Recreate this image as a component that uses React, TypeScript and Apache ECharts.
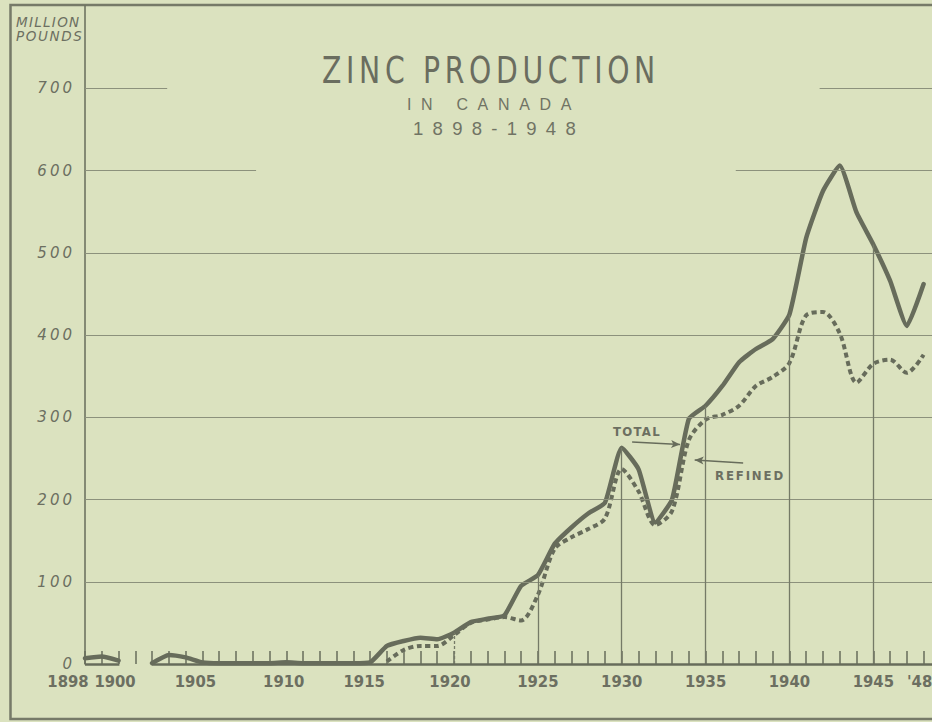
import React, { useEffect, useRef } from "react";
import * as echarts from "echarts";

// ---- data ----
const years = [
  1898, 1899, 1900, 1901, 1902, 1903, 1904, 1905, 1906, 1907,
  1908, 1909, 1910, 1911, 1912, 1913, 1914, 1915, 1916, 1917,
  1918, 1919, 1920, 1921, 1922, 1923, 1924, 1925, 1926, 1927,
  1928, 1929, 1930, 1931, 1932, 1933, 1934, 1935, 1936, 1937,
  1938, 1939, 1940, 1941, 1942, 1943, 1944, 1945, 1946, 1947, 1948,
];
// million pounds
const totalProduction = [
  7, 9, 4, null, 1, 11, 8, 2, 1, 1,
  1, 1, 2, 1, 1, 1, 1, 2, 22, 28,
  32, 30, 38, 51, 55, 59, 95, 108, 146, 166,
  183, 196, 263, 237, 172, 200, 298, 314, 338, 367,
  383, 395, 425, 518, 575, 606, 549, 510, 466, 411, 462,
];
const refinedProduction = [
  null, null, null, null, null, null, null, null, null, null,
  null, null, null, null, null, null, null, null, 3, 17,
  22, 22, 35, 50, 54, 57, 53, 84, 140, 154,
  164, 177, 237, 210, 169, 186, 272, 297, 303, 314,
  338, 349, 366, 424, 428, 402, 342, 365, 370, 354, 376,
];
const firstYearLabel = "1898";
const xLabelYears = [1900, 1905, 1910, 1915, 1920, 1925, 1930, 1935, 1940, 1945, 1948];
const yTickValues = [0, 100, 200, 300, 400, 500, 600, 700];
const fullGridValues = [100, 200, 300, 400, 500];
// partially visible grid lines on the scanned page: [value, fromYear, toYear]
const partialGrid: [number, number, number][] = [
  [600, 1898, 1908.2],
  [600, 1936.8, 1948.5],
  [700, 1898, 1902.9],
  [700, 1941.8, 1948.5],
];
const dropLineYears = [1925, 1930, 1935, 1940, 1945];

const BG = "#dbe2bf";
const INK = "#676c5b";
const GRID = "#8c917c";
const TEXT = "#6c6f61";
const NARROW = "'Liberation Sans Narrow', 'DejaVu Sans Condensed', 'Liberation Sans', sans-serif";
const SANS = "'Liberation Sans', sans-serif";
const XFONT = 16.5;

// drift of the printed year labels (px, negative = left)
const labelShift: Record<number, number> = { 1900: -3.5, 1905: -7, 1910: -2.5, 1915: -6, 1920: -4, 1948: -4 };

function measure(text: string, font: string): number {
  const c = document.createElement("canvas").getContext("2d");
  if (!c) return text.length * 10;
  c.font = font;
  return c.measureText(text).width || text.length * 10;
}

const spacingMap: Record<string, number> = {};

// text placed at left x, with given glyph scaleX, spread to a target width with letter spacing
function spacedText(
  text: string,
  x: number,
  y: number,
  width: number,
  size: number,
  weight: string,
  family: string,
  fill: string,
  scaleX: number
) {
  const natural = measure(text, `${weight} ${size}px ${family}`);
  const ls = Math.max(0, (width / scaleX - natural) / text.length);
  spacingMap[text] = ls;
  return {
    type: "text",
    x,
    y,
    scaleX,
    silent: true,
    style: {
      text,
      fontSize: size,
      fontWeight: weight,
      fontFamily: family,
      fill,
      align: "left",
      verticalAlign: "middle",
      textAlign: "left",
      textVerticalAlign: "middle",
    },
  };
}

export default function App() {
  const ref = useRef<HTMLDivElement>(null);

  useEffect(() => {
    if (!ref.current) return;
    const chart = echarts.init(ref.current, undefined, { renderer: "svg" });

    const totalData = years.map((y, i) => [y, totalProduction[i] == null ? "-" : totalProduction[i]]);
    const refinedData = years.map((y, i) => [y, refinedProduction[i] == null ? "-" : refinedProduction[i]]);

    const gridLines: any[] = [];
    fullGridValues.forEach((v) => {
      gridLines.push([{ coord: [1898, v] }, { coord: [1948.5, v] }]);
    });
    partialGrid.forEach(([v, a, b]) => {
      gridLines.push([{ coord: [a, v] }, { coord: [b, v] }]);
    });

    const baseLines: any[] = [
      [{ coord: [1898, 0] }, { coord: [1900.05, 0] }],
      [{ coord: [1902, 0] }, { coord: [1948.5, 0] }],
    ];

    const drops: any[] = dropLineYears.map((yr) => [
      { coord: [yr, 0] },
      { coord: [yr, totalProduction[years.indexOf(yr)] as number] },
    ]);
    drops.push([
      { coord: [1920, 0], lineStyle: { type: [3, 2] } },
      { coord: [1920, totalProduction[years.indexOf(1920)] as number] },
    ]);

    const arrows: any[] = [
      [
        { coord: [1930.62, 269.9], symbol: "none" },
        { coord: [1933.48, 266.9], symbol: "arrow", symbolSize: [6, 9] },
      ],
      [
        { coord: [1937.24, 244.4], symbol: "none" },
        { coord: [1934.35, 248.0], symbol: "arrow", symbolSize: [6, 9] },
      ],
    ];

    const xRich: Record<string, any> = {};
    xLabelYears.forEach((yr) => {
      const s = labelShift[yr] || 0;
      xRich["y" + yr] = {
        color: TEXT,
        fontFamily: NARROW,
        fontWeight: "bold",
        fontSize: XFONT,
        padding: [0, Math.max(0, -2 * s), 0, Math.max(0, 2 * s)],
      };
    });

    // y-axis labels printed with spaced digits
    yTickValues.forEach((v) => {
      spacingMap[String(v)] = 3;
    });
    spacingMap["MILLION"] = 1.3;
    spacingMap["POUNDS"] = 1.6;

    const graphics: any[] = [
      {
        type: "rect",
        silent: true,
        shape: { x: 10.5, y: 5, width: 960, height: 714 },
        style: { fill: "none", stroke: "#767a68", lineWidth: 2.5 },
      },
      {
        type: "text",
        x: 16,
        y: 21.5,
        silent: true,
        style: {
          text: "MILLION",
          fontSize: 13.5,
          fontStyle: "italic",
          fontFamily: "'DejaVu Sans', sans-serif",
          fill: TEXT,
          align: "left",
          verticalAlign: "middle",
          textAlign: "left",
          textVerticalAlign: "middle",
        },
      },
      {
        type: "text",
        x: 16,
        y: 36,
        silent: true,
        style: {
          text: "POUNDS",
          fontSize: 13.5,
          fontStyle: "italic",
          fontFamily: "'DejaVu Sans', sans-serif",
          fill: TEXT,
          align: "left",
          verticalAlign: "middle",
          textAlign: "left",
          textVerticalAlign: "middle",
        },
      },
      {
        type: "text",
        x: 68,
        y: 681.5,
        silent: true,
        style: {
          text: firstYearLabel,
          fontSize: XFONT,
          fontWeight: "bold",
          fontFamily: NARROW,
          fill: TEXT,
          align: "center",
          verticalAlign: "middle",
          textAlign: "center",
          textVerticalAlign: "middle",
        },
      },
      spacedText("ZINC PRODUCTION", 322, 70, 338, 37, "normal", NARROW, "#6a6d5f", 0.85),
      spacedText("IN CANADA", 407, 104.5, 174, 16, "normal", SANS, "#707364", 1),
      spacedText("1898-1948", 413, 128.5, 172, 18.5, "normal", SANS, "#707364", 1),
      spacedText("TOTAL", 613, 431.5, 48, 13, "bold", NARROW, TEXT, 1),
      spacedText("REFINED", 715, 475, 70, 13, "bold", NARROW, TEXT, 1),
    ];

    chart.setOption({
      animation: false,
      backgroundColor: BG,
      grid: { left: 85, right: 0, top: 6, bottom: 58, outerBoundsMode: "none", containLabel: false },
      xAxis: {
        type: "value",
        min: 1898,
        max: 1948.5,
        splitLine: { show: false },
        axisLine: { show: false },
        axisTick: {
          show: true,
          inside: true,
          length: 13,
          customValues: years,
          lineStyle: { color: INK, width: 1.5 },
        },
        axisLabel: {
          show: true,
          customValues: xLabelYears,
          hideOverlap: false,
          formatter: (v: number) => `{y${v}|${v === 1948 ? "'48" : String(v)}}`,
          rich: xRich,
          color: TEXT,
          fontFamily: NARROW,
          fontWeight: "bold",
          fontSize: XFONT,
          margin: 9,
        },
      },
      yAxis: {
        type: "value",
        min: 0,
        max: 800,
        interval: 100,
        splitLine: { show: false },
        axisTick: { show: false },
        axisLine: { show: true, lineStyle: { color: INK, width: 1.5 } },
        axisLabel: {
          customValues: yTickValues,
          showMinLabel: true,
          formatter: (v: number) => String(v),
          color: TEXT,
          fontFamily: "'DejaVu Sans', sans-serif",
          fontStyle: "italic",
          fontSize: 15,
          margin: 10,
        },
      },
      series: [
        {
          name: "grid",
          type: "line",
          data: [],
          z: 1,
          silent: true,
          markLine: {
            silent: true,
            symbol: "none",
            label: { show: false },
            lineStyle: { color: GRID, width: 1.2, type: "solid" },
            data: gridLines,
          },
        },
        {
          name: "drops",
          type: "line",
          data: [],
          z: 1,
          silent: true,
          markLine: {
            silent: true,
            symbol: "none",
            label: { show: false },
            lineStyle: { color: "#757a67", width: 1.3, type: "solid" },
            data: drops,
          },
        },
        {
          name: "baseline",
          type: "line",
          data: [],
          z: 2,
          silent: true,
          markLine: {
            silent: true,
            symbol: "none",
            label: { show: false },
            lineStyle: { color: INK, width: 2.5, type: "solid" },
            data: baseLines,
          },
        },
        {
          name: "arrows",
          type: "line",
          data: [],
          z: 2,
          silent: true,
          markLine: {
            silent: true,
            label: { show: false },
            lineStyle: { color: INK, width: 1.5, type: "solid" },
            data: arrows,
          },
        },
        {
          name: "Refined",
          type: "line",
          data: refinedData,
          symbol: "none",
          smooth: 0.3,
          z: 3,
          lineStyle: { color: INK, width: 4, type: [5, 3.5], join: "round" },
        },
        {
          name: "Total",
          type: "line",
          data: totalData,
          symbol: "none",
          smooth: 0.15,
          z: 4,
          lineStyle: { color: INK, width: 4.5, join: "round", cap: "round" },
        },
      ],
      graphic: graphics,
    });

    const applySpacing = () => {
      const root = ref.current;
      if (!root) return;
      root.querySelectorAll("text, tspan").forEach((el: any) => {
        const key = (el.textContent || "").trim();
        if (Object.prototype.hasOwnProperty.call(spacingMap, key)) {
          el.style.letterSpacing = spacingMap[key] + "px";
        }
      });
    };
    chart.on("finished", applySpacing);
    applySpacing();
    const t1 = window.setTimeout(applySpacing, 0);
    const t2 = window.setTimeout(applySpacing, 200);

    return () => {
      window.clearTimeout(t1);
      window.clearTimeout(t2);
      chart.dispose();
    };
  }, []);

  return (
    <div
      ref={ref}
      style={{ position: "fixed", left: 0, top: 0, width: 932, height: 722 }}
    />
  );
}
